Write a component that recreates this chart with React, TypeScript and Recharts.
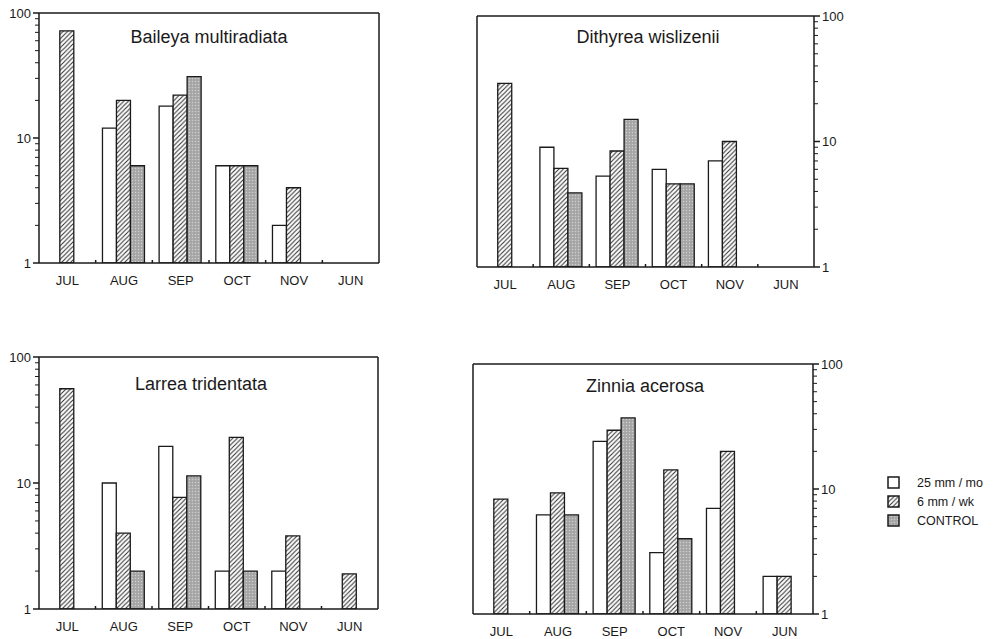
import React from 'react';
import { BarChart, Bar, XAxis, YAxis } from 'recharts';

// ---------- data ----------
const months = ['JUL', 'AUG', 'SEP', 'OCT', 'NOV', 'JUN'];
const seriesNames = ['25 mm / mo', '6 mm / wk', 'CONTROL'];
const yTicks = [1, 2, 3, 4, 5, 6, 7, 8, 9, 10, 20, 30, 40, 50, 60, 70, 80, 90, 100];
const majorTicks = [1, 10, 100];

const baileya25 = [null, 12, 18, 6, 2, null];
const baileya6 = [72, 20, 22, 6, 4, null];
const baileyaCtl = [null, 6, 31, 6, null, null];

const dithyrea25 = [null, 9, 5.3, 6, 7, null];
const dithyrea6 = [29, 6.1, 8.4, 4.6, 10, null];
const dithyreaCtl = [null, 3.9, 15, 4.6, null, null];

const larrea25 = [null, 10, 19.5, 2, 2, null];
const larrea6 = [56, 4, 7.7, 23, 3.8, 1.9];
const larreaCtl = [null, 2, 11.4, 2, null, null];

const zinnia25 = [null, 6.2, 24, 3.1, 7, 2];
const zinnia6 = [8.3, 9.3, 29.5, 14.2, 20, 2];
const zinniaCtl = [null, 6.2, 37, 4, null, null];

const build = (a: (number | null)[], b: (number | null)[], c: (number | null)[]) =>
  months.map((m, i) => ({ m, a: a[i], b: b[i], c: c[i], f: 0 }));

const FONT = '"Liberation Sans", Arial, Helvetica, sans-serif';
const INK = '#1a1a1a';
const fills = ['#ffffff', 'url(#hatch)', 'url(#ctrl)'];

const YTick = (props: any) => {
  const { x, y, payload, side } = props;
  const v = payload.value;
  const major = majorTicks.includes(v);
  const dir = side === 'left' ? -1 : 1;
  const len = major ? 6 : 4;
  return (
    <g>
      <line x1={x} y1={y} x2={x + dir * len} y2={y} stroke={INK} strokeWidth={major ? 1.5 : 1} />
      {major && (
        <text
          x={x + dir * (len + 2)}
          y={y}
          dy="0.35em"
          textAnchor={dir < 0 ? 'end' : 'start'}
          fontSize={13}
          fontFamily={FONT}
          fill={INK}
        >
          {v}
        </text>
      )}
    </g>
  );
};

const XTick = (props: any) => {
  const { x, y, payload, index } = props;
  const off = payload && typeof payload.offset === 'number' ? payload.offset : null;
  return (
    <g>
      {index > 0 && off !== null && (
        <line x1={x - off} y1={y} x2={x - off} y2={y - 3} stroke={INK} strokeWidth={1.5} />
      )}
      <text x={x} y={y + 17} dy="0.35em" textAnchor="middle" fontSize={13} fontFamily={FONT} fill={INK}>
        {payload.value}
      </text>
    </g>
  );
};

type PanelProps = {
  data: any[];
  left: number;
  top: number;
  w: number;
  h: number;
  px0: number;
  px1: number;
  py0: number;
  py1: number;
  side: 'left' | 'right';
};

const X_H = 24;
const F = 1; // size reserved for frame axes

const Panel = ({ data, left, top, w, h, px0, px1, py0, py1, side }: PanelProps) => {
  const leftW = side === 'left' ? px0 - left : F;
  const rightW = side === 'right' ? w - (px1 - left) : F;
  const margin = {
    top: py0 - top - F,
    bottom: h - (py1 - top) - X_H,
    left: side === 'left' ? 0 : px0 - left - F,
    right: side === 'right' ? 0 : w - (px1 - left) - F,
  };
  const axisLine = { stroke: INK, strokeWidth: 1.5 };
  return (
    <div style={{ position: 'absolute', left, top }}>
      <BarChart width={w} height={h} data={data} margin={margin} barCategoryGap="12%" barGap={0}>
        <XAxis
          xAxisId="main"
          dataKey="m"
          type="category"
          height={X_H}
          axisLine={axisLine}
          tickLine={false}
          tickSize={0}
          tickMargin={0}
          interval={0}
          tick={(p: any) => <XTick {...p} />}
        />
        <XAxis
          xAxisId="top"
          dataKey="m"
          type="category"
          orientation="top"
          height={F}
          axisLine={axisLine}
          tick={false}
          tickLine={false}
        />
        <YAxis
          yAxisId="v"
          orientation={side}
          scale="log"
          type="number"
          domain={[1, 100]}
          allowDataOverflow
          ticks={yTicks}
          interval={0}
          width={side === 'left' ? leftW : rightW}
          axisLine={axisLine}
          tickLine={false}
          tickSize={0}
          tickMargin={0}
          tick={(p: any) => <YTick {...p} side={side} />}
        />
        <YAxis
          yAxisId="frame"
          orientation={side === 'left' ? 'right' : 'left'}
          type="number"
          domain={[0, 1]}
          width={F}
          axisLine={axisLine}
          tick={false}
          tickLine={false}
        />
        {['a', 'b', 'c'].map((k, i) => (
          <Bar
            key={k}
            xAxisId="main"
            yAxisId="v"
            dataKey={k}
            name={seriesNames[i]}
            fill={fills[i]}
            stroke={INK}
            strokeWidth={1.3}
            isAnimationActive={false}
          />
        ))}
        <Bar xAxisId="top" yAxisId="frame" dataKey="f" fill="none" isAnimationActive={false} legendType="none" />
      </BarChart>
    </div>
  );
};

const titles = [
  { text: 'Baileya multiradiata', x: 209, y: 43 },
  { text: 'Dithyrea wislizenii', x: 648, y: 43 },
  { text: 'Larrea tridentata', x: 201, y: 390 },
  { text: 'Zinnia acerosa', x: 645, y: 392 },
];

export default function App() {
  return (
    <div style={{ position: 'absolute', left: 0, top: 0, width: 1000, height: 639, background: '#fff' }}>
      <svg width={1000} height={639} style={{ position: 'absolute', left: 0, top: 0 }}>
        <defs>
          <pattern id="hatch" patternUnits="userSpaceOnUse" width={4.5} height={4.5}>
            <rect width={4.5} height={4.5} fill="#fff" />
            <path d="M-1,1 L1,-1 M0,4.5 L4.5,0 M3.5,5.5 L5.5,3.5" stroke="#333" strokeWidth={1.1} />
          </pattern>
          <pattern id="ctrl" patternUnits="userSpaceOnUse" width={3} height={3}>
            <rect width={3} height={3} fill="#ababab" />
            <rect x={0} y={0} width={1} height={1} fill="#d0d0d0" />
            <rect x={1.5} y={1.5} width={1} height={1} fill="#939393" />
          </pattern>
        </defs>
      </svg>
      <Panel data={build(baileya25, baileya6, baileyaCtl)} left={0} top={0} w={440} h={300} px0={39} px1={379} py0={13} py1={263} side="left" />
      <Panel data={build(dithyrea25, dithyrea6, dithyreaCtl)} left={440} top={0} w={420} h={300} px0={477} px1={814} py0={16} py1={267} side="right" />
      <Panel data={build(larrea25, larrea6, larreaCtl)} left={0} top={320} w={440} h={319} px0={39} px1={378} py0={357} py1={609} side="left" />
      <Panel data={build(zinnia25, zinnia6, zinniaCtl)} left={440} top={320} w={420} h={319} px0={473} px1={813} py0={364} py1={614} side="right" />
      <svg width={1000} height={639} style={{ position: 'absolute', left: 0, top: 0, pointerEvents: 'none' }}>
        {titles.map((t) => (
          <text key={t.text} x={t.x} y={t.y} textAnchor="middle" fontSize={18} fontFamily={FONT} fill={INK}>
            {t.text}
          </text>
        ))}
        {seriesNames.map((n, i) => (
          <g key={n}>
            <rect x={888} y={477 + i * 19} width={11} height={11} fill={fills[i]} stroke={INK} strokeWidth={1.5} />
            <text x={917} y={483 + i * 19} dy="0.35em" fontSize={12.5} fontFamily={FONT} fill={INK}>
              {n}
            </text>
          </g>
        ))}
      </svg>
    </div>
  );
}
